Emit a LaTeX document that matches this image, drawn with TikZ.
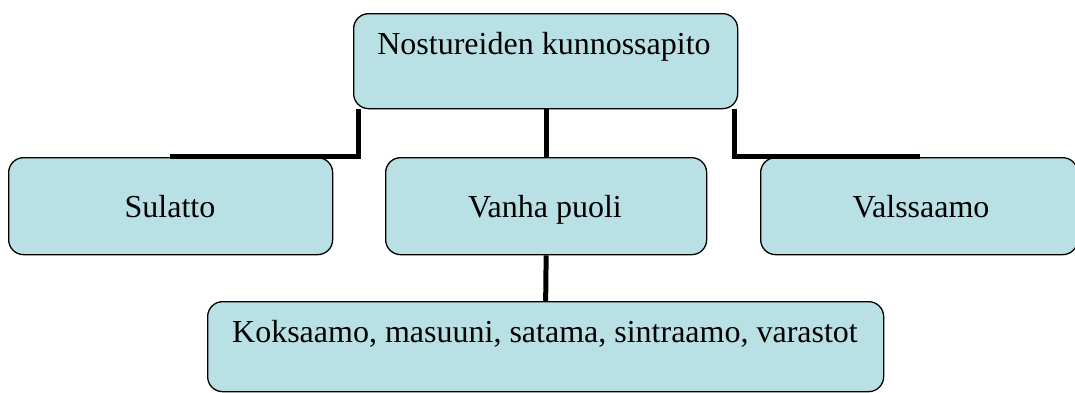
\documentclass[tikz,border=0pt]{standalone}
\usepackage{fontspec}
\setmainfont{Liberation Serif}
\definecolor{boxfill}{RGB}{185,224,228}
\tikzset{
  box/.style={draw=black, line width=1.3pt, fill=boxfill, rounded corners=15pt,
              inner sep=0pt, anchor=north west},
  lbl/.style={anchor=base, inner sep=0pt, font=\fontsize{32}{38}\selectfont},
  conn/.style={draw=black, line width=5pt}
}
\begin{document}
\begin{tikzpicture}[x=1pt,y=-1pt]
\useasboundingbox (0,0) rectangle (1075,392);
\begin{scope}
\clip (0,0) rectangle (1075,392);
\node[box, minimum width=384pt, minimum height=95pt] (top) at (353,13) {};
\node[box, minimum width=324pt, minimum height=97pt] (sul) at (8,157) {};
\node[box, minimum width=321pt, minimum height=97pt] (van) at (385,157) {};
\node[box, minimum width=317pt, minimum height=97pt] (val) at (760,157) {};
\node[box, minimum width=676pt, minimum height=90pt] (kok) at (207,301) {};
\end{scope}
\node[lbl] (topT) at (544,54) {Nostureiden kunnossapito};
\node[lbl] (sulT) at (170,217) {Sulatto};
\node[lbl] (vanT) at (545,217) {Vanha puoli};
\node[lbl] (valT) at (921,217) {Valssaamo};
\node[lbl] (kokT) at (545,342) {Koksaamo, masuuni, satama, sintraamo, varastot};
\coordinate (lend) at (170,156.5);
\coordinate (rend) at (920,156.5);
\draw[conn] ([xshift=5pt]top.south west) |- (lend);
\draw[conn] ([xshift=-4pt]top.south east) |- (rend);
\draw[conn] (top.south -| van.north) -- (van.north);
\draw[conn] (van.south) -- (kok.north);
\end{tikzpicture}
\end{document}
